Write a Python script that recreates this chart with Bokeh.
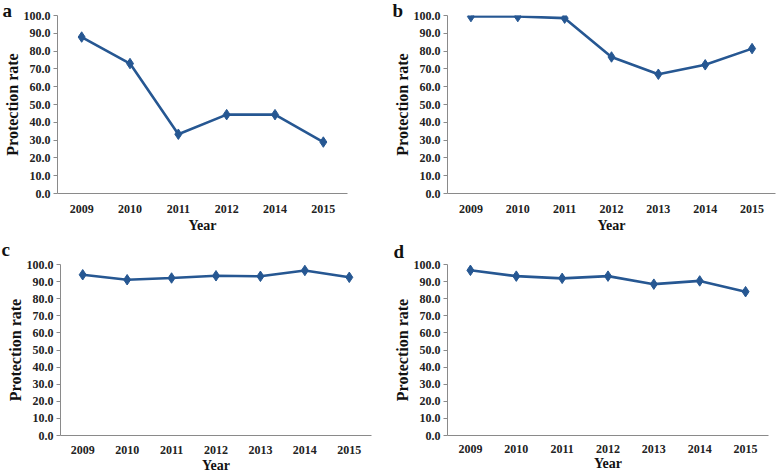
from bokeh.plotting import figure
from bokeh.models import Range1d, FactorRange, PrintfTickFormatter, SingleIntervalTicker
from bokeh.layouts import column, row
from bokeh.embed import file_html
from bokeh.resources import INLINE

# ---- data ----
years_a = ["2009", "2010", "2011", "2012", "2014", "2015"]
rate_a = [87.9, 73.0, 33.3, 44.3, 44.3, 28.9]

years_b = ["2009", "2010", "2011", "2012", "2013", "2014", "2015"]
rate_b = [99.4, 99.4, 98.5, 76.7, 67.0, 72.3, 81.4]

years_c = ["2009", "2010", "2011", "2012", "2013", "2014", "2015"]
rate_c = [94.0, 91.1, 92.1, 93.4, 93.1, 96.5, 92.5]

years_d = ["2009", "2010", "2011", "2012", "2013", "2014", "2015"]
rate_d = [96.6, 93.2, 91.9, 93.2, 88.5, 90.4, 84.1]

panel_letters = ["a", "b", "c", "d"]
x_title = "Year"
y_title = "Protection rate"

SERIF = "Liberation Serif"
LINE_COLOR = "#265792"
AXIS_COLOR = "#8a8a8a"


def make_panel(years, rates, letter, w, h, mb, xstand, xlabstand, t_off, t_stand, t_valign):
    p = figure(width=w, height=h, x_range=FactorRange(*years), y_range=Range1d(0, 100),
               output_backend="svg", toolbar_location=None,
               min_border_left=mb[0], min_border_right=mb[1],
               min_border_top=mb[2], min_border_bottom=mb[3])
    p.x_range.range_padding = 0
    p.outline_line_color = None
    p.xgrid.visible = False
    p.ygrid.visible = False
    p.background_fill_color = "white"
    p.border_fill_color = "white"

    p.line(years, rates, line_color=LINE_COLOR, line_width=2.6)
    p.scatter(years, rates, marker="diamond", size=10.5, fill_color=LINE_COLOR,
              line_color=LINE_COLOR)

    ya = p.yaxis[0]
    ya.ticker = SingleIntervalTicker(interval=10, num_minor_ticks=0)
    ya.formatter = PrintfTickFormatter(format="%.1f")
    ya.axis_line_color = AXIS_COLOR
    ya.major_tick_line_color = AXIS_COLOR
    ya.major_tick_out = 4
    ya.major_tick_in = 0
    ya.minor_tick_line_color = None
    ya.major_label_standoff = 3
    ya.major_label_text_font = SERIF
    ya.major_label_text_font_style = "bold"
    ya.major_label_text_font_size = "12px"
    ya.major_label_text_color = "#222222"
    ya.axis_label = y_title
    ya.axis_label_text_font = SERIF
    ya.axis_label_text_font_style = "bold"
    ya.axis_label_text_font_size = "16px"
    ya.axis_label_text_color = "#111111"
    ya.axis_label_standoff = 0

    xa = p.xaxis[0]
    xa.axis_line_color = AXIS_COLOR
    xa.major_tick_line_color = None
    xa.major_tick_out = 0
    xa.major_tick_in = 0
    xa.minor_tick_line_color = None
    xa.major_label_standoff = xstand
    xa.major_label_text_font = SERIF
    xa.major_label_text_font_style = "bold"
    xa.major_label_text_font_size = "12px"
    xa.major_label_text_color = "#222222"
    xa.axis_label = x_title
    xa.axis_label_text_font = SERIF
    xa.axis_label_text_font_style = "bold"
    xa.axis_label_text_font_size = "14px"
    xa.axis_label_text_color = "#111111"
    xa.axis_label_standoff = xlabstand

    # panel letter as a left-aligned title
    p.title.text = letter
    p.title.align = "left"
    p.title.offset = t_off
    p.title.standoff = t_stand
    p.title.vertical_align = t_valign
    p.title.text_font = SERIF
    p.title.text_font_style = "bold"
    p.title.text_font_size = "19px"
    p.title.text_color = "#111111"
    return p


pa = make_panel(years_a, rate_a, panel_letters[0], 390, 235, (57, 43, 15, 41), 11, 2, -55, -10, "bottom")
pb = make_panel(years_b, rate_b, panel_letters[1], 388, 235, (57, 3, 15, 41), 11, 2, -55, -10, "bottom")
pc = make_panel(years_c, rate_c, panel_letters[2], 390, 240, (60, 19, 29, 38), 10, 1, -59, 6, "top")
pd = make_panel(years_d, rate_d, panel_letters[3], 388, 240, (56, 10, 29, 34), 9, 0, -54, 6, "bottom")

layout = column(row(pa, pb), row(pc, pd))

open("out.html", "w").write(file_html(layout, INLINE))
